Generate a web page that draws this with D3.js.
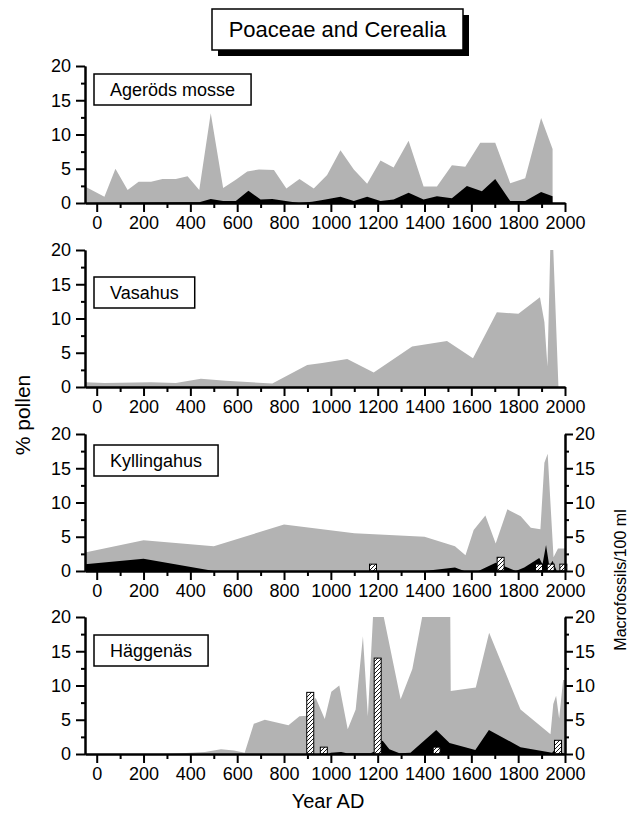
<!DOCTYPE html>
<html><head><meta charset="utf-8">
<script src="https://cdn.jsdelivr.net/npm/d3@7"></script>
<style>
body{margin:0;background:#fff}
text{font-family:"Liberation Sans",Arial,Helvetica,sans-serif}
</style>
</head><body>
<svg id="chart" width="630" height="817"></svg>
<script>
// ---------- DATA ----------
const xTickYears = [0,200,400,600,800,1000,1200,1400,1600,1800,2000];
const xMinorYears = [100,300,500,700,900,1100,1300,1500,1700,1900];
const yTickValues = [0,5,10,15,20];
const yMinorValues = [2.5,7.5,12.5,17.5];
const siteNames = ["Ageröds mosse","Vasahus","Kyllingahus","Häggenäs"];

// grey = Poaceae %, black = Cerealia %, bars = macrofossils / 100 ml
const agerodsPoaceae = [[-50,2.4],[33,0.9],[80,5.0],[132,1.9],[179,3.1],[232,3.1],[281,3.5],[338,3.5],[388,3.9],[438,1.9],[487,13.1],[540,2.2],[594,3.4],[643,4.6],[693,4.9],[757,4.8],[810,2.1],[866,3.5],[927,2.1],[984,4.1],[1041,7.7],[1098,4.9],[1155,2.8],[1212,6.2],[1268,5.2],[1332,9.1],[1396,2.4],[1453,2.4],[1517,5.5],[1574,5.3],[1638,8.8],[1702,8.8],[1766,2.9],[1830,3.6],[1898,12.4],[1947,7.9]];
const agerodsCerealia = [[-50,0],[390,0.1],[438,0.1],[487,0.6],[540,0.3],[594,0.3],[648,1.8],[700,0.5],[750,0.6],[807,0.3],[864,0],[920,0.2],[977,0.5],[1041,0.9],[1098,0.3],[1155,0.9],[1212,0.3],[1268,0.5],[1332,1.5],[1396,0.5],[1453,1.0],[1517,0.7],[1581,2.5],[1645,1.7],[1702,3.5],[1766,0.3],[1830,0.3],[1898,1.6],[1947,1.0]];

const vasahusPoaceae = [[-50,0.7],[33,0.6],[232,0.7],[338,0.6],[445,1.2],[551,0.9],[750,0.5],[899,3.2],[963,3.5],[1070,4.1],[1183,2.1],[1347,5.9],[1496,6.7],[1607,4.2],[1709,10.9],[1801,10.7],[1893,13.1],[1912,9.5],[1925,3.0],[1937,20],[1950,20],[1972,0]];
const vasahusCerealia = [];

const kyllingahusPoaceae = [[-50,2.7],[200,4.5],[500,3.6],[800,6.8],[1100,5.5],[1400,5.0],[1530,3.6],[1575,2.3],[1610,6.0],[1660,8.1],[1704,4.0],[1754,9.0],[1811,8.0],[1854,6.3],[1895,6.1],[1912,15.8],[1926,17.1],[1951,2.0],[1970,3.3],[2000,3.3]];
const kyllingahusCerealia = [[-50,1.0],[200,1.8],[500,0],[1400,0],[1530,0.5],[1570,0],[1630,0],[1704,1.2],[1740,0.7],[1790,0],[1826,0.5],[1890,1.9],[1904,1.0],[1919,3.8],[1933,0.7],[1947,1.5],[1965,0]];
const kyllingahusMacro = [[1180,1],[1725,2],[1889,1],[1939,1],[1993,1]];

const haggenasPoaceae = [[-50,0],[300,0],[462,0.3],[531,0.7],[586,0.5],[632,0.2],[671,4.4],[718,5.0],[819,4.2],[866,5.5],[904,5.6],[935,8.2],[974,5.1],[1002,9.1],[1036,10.0],[1072,3.6],[1106,6.5],[1137,17.2],[1158,5.5],[1180,20],[1226,20],[1298,8.0],[1348,12.4],[1390,20],[1510,20],[1512,9.2],[1619,9.7],[1676,17.7],[1810,6.5],[1938,2.9],[1950,7.3],[1962,8.5],[1975,5.2],[1992,10.8],[2000,10.8]];
const haggenasCerealia = [[-50,0],[990,0],[1000,0.2],[1044,0.3],[1068,0.1],[1170,0.1],[1195,0.5],[1208,2.0],[1222,1.9],[1250,0.7],[1293,0.1],[1340,0.2],[1450,3.5],[1507,1.6],[1617,0.6],[1675,3.5],[1810,1.0],[1945,0.2],[1960,0.8],[1980,0.3],[2000,0]];
const haggenasMacro = [[912,9],[970,1],[1200,14],[1452,1],[1970,2]];

const poaceaeSeries = [agerodsPoaceae, vasahusPoaceae, kyllingahusPoaceae, haggenasPoaceae];
const cerealiaSeries = [agerodsCerealia, vasahusCerealia, kyllingahusCerealia, haggenasCerealia];
const macroSeries = [null, null, kyllingahusMacro, haggenasMacro];

// ---------- DRAW ----------
const svg = d3.select("#chart");
const defs = svg.append("defs");
const pat = defs.append("pattern").attr("id","hatch").attr("patternUnits","userSpaceOnUse")
  .attr("width",4).attr("height",4);
pat.append("rect").attr("width",4).attr("height",4).attr("fill","#fff");
pat.append("path").attr("d","M-1,1 l2,-2 M0,4 l4,-4 M3,5 l2,-2").attr("stroke","#000").attr("stroke-width",0.9);

const FONT = "Liberation Sans, Arial, sans-serif";
const x = d3.scaleLinear().domain([-50,2000]).range([85,565]);
const panelTops = [66,250,434,617];
const panelH = 137;
const boxOffsets = [8,27,11,18];

function styleAxis(g){
  g.selectAll("path,line").attr("stroke","#000").attr("stroke-width",2);
  g.selectAll("text").attr("font-size",18).attr("font-family",FONT).attr("fill","#000");
}

panelTops.forEach((top,i)=>{
  const y = d3.scaleLinear().domain([0,20]).range([top+panelH, top]);
  const g = svg.append("g");
  const clipId = "clip"+i;
  defs.append("clipPath").attr("id",clipId).append("rect")
    .attr("x",x(-50)).attr("y",top).attr("width",x(2000)-x(-50)).attr("height",panelH);
  const area = d3.area().x(d=>x(d[0])).y0(y(0)).y1(d=>y(d[1]));
  g.append("path").datum(poaceaeSeries[i]).attr("d",area).attr("fill","#b3b3b3").attr("clip-path",`url(#${clipId})`);
  if (cerealiaSeries[i].length) g.append("path").datum(cerealiaSeries[i]).attr("d",area).attr("fill","#000").attr("clip-path",`url(#${clipId})`);
  if (macroSeries[i]) {
    g.selectAll("rect.bar").data(macroSeries[i]).join("rect").attr("class","bar")
      .attr("x",d=>x(d[0])-3.5).attr("width",7)
      .attr("y",d=>y(d[1])).attr("height",d=>y(0)-y(d[1]))
      .attr("fill","url(#hatch)").attr("stroke","#000").attr("stroke-width",1);
  }
  // x axis
  g.append("g").attr("transform",`translate(0,${y(0)})`)
    .call(d3.axisBottom(x).tickValues(xTickYears).tickFormat(d3.format("d")).tickSize(9).tickPadding(4).tickSizeOuter(0))
    .call(styleAxis);
  g.append("g").attr("transform",`translate(0,${y(0)})`)
    .call(d3.axisBottom(x).tickValues(xMinorYears).tickFormat("").tickSize(5).tickSizeOuter(0))
    .call(styleAxis);
  // left axis
  g.append("g").attr("transform",`translate(${x(-50)},0)`)
    .call(d3.axisLeft(y).tickValues(yTickValues).tickSize(9).tickPadding(5).tickSizeOuter(0))
    .call(styleAxis);
  g.append("g").attr("transform",`translate(${x(-50)},0)`)
    .call(d3.axisLeft(y).tickValues(yMinorValues).tickFormat("").tickSize(4).tickSizeOuter(0))
    .call(styleAxis);
  if (macroSeries[i]) {
    g.append("g").attr("transform",`translate(${x(2000)},0)`)
      .call(d3.axisRight(y).tickValues(yTickValues).tickSize(8).tickPadding(2).tickSizeOuter(0))
      .call(styleAxis);
    g.append("g").attr("transform",`translate(${x(2000)},0)`)
      .call(d3.axisRight(y).tickValues(yMinorValues).tickFormat("").tickSize(4).tickSizeOuter(0))
      .call(styleAxis);
  }
  // site label box
  const bx = 94, by = top + boxOffsets[i];
  const rect = g.append("rect").attr("x",bx).attr("y",by).attr("height",31)
    .attr("fill","#fff").attr("stroke","#000").attr("stroke-width",1.5);
  const t = g.append("text").attr("x",bx+16).attr("y",by+22).attr("font-size",18)
    .attr("font-family",FONT).text(siteNames[i]);
  rect.attr("width", t.node().getComputedTextLength()+32);
});

// title
svg.append("rect").attr("x",218).attr("y",15).attr("width",251).attr("height",41).attr("fill","#000");
svg.append("rect").attr("x",212).attr("y",9).attr("width",251).attr("height",41).attr("fill","#fff").attr("stroke","#000").attr("stroke-width",1.5);
svg.append("text").attr("x",337.5).attr("y",37).attr("text-anchor","middle").attr("font-size",22).attr("font-family",FONT).text("Poaceae and Cerealia");

// axis titles
svg.append("text").attr("transform","translate(30,415) rotate(-90)").attr("text-anchor","middle")
  .attr("font-size",21).attr("font-family",FONT).text("% pollen");
svg.append("text").attr("x",328).attr("y",808).attr("text-anchor","middle")
  .attr("font-size",20).attr("font-family",FONT).text("Year AD");
svg.append("text").attr("transform","translate(626,580) rotate(-90)").attr("text-anchor","middle")
  .attr("font-size",16).attr("font-family",FONT).text("Macrofossils/100 ml");
</script>
</body></html>
